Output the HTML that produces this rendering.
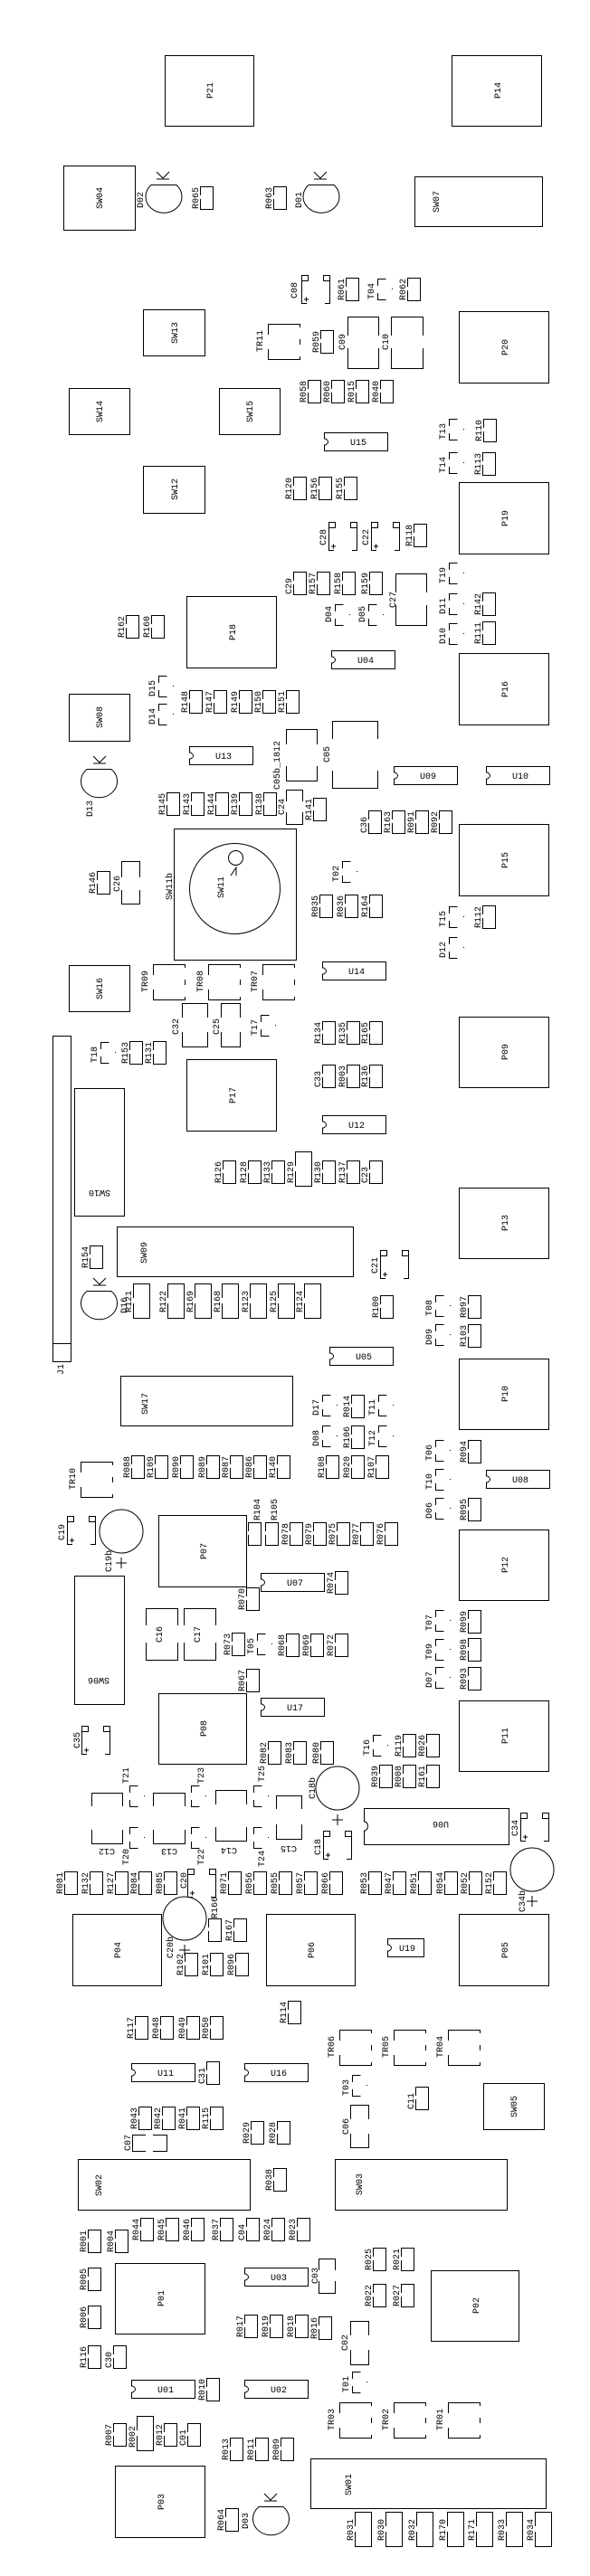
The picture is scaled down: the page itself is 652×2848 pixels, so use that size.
<!DOCTYPE html>
<html><head><meta charset="utf-8">
<style>
html,body{margin:0;padding:0;background:#fff;}
svg{display:block;}
text{fill:#000;stroke:none;font-family:"Liberation Mono","DejaVu Sans Mono",monospace;font-size:10px;}
.m{text-anchor:middle;}
</style></head><body>
<svg width="652" height="2848" viewBox="0 0 652 2848" xmlns="http://www.w3.org/2000/svg" fill="none" stroke="#000" stroke-width="1" shape-rendering="crispEdges">
<defs>
<path id="r" d="M0.5,10V0.5H14.5V25.5H0.5V14"/>
<path id="R" d="M0.5,16V0.5H18.5V38.5H0.5V22"/>
<g id="t"><path d="M9.5,0.5H0.5V8M0.5,16V23.5H9.5"/><rect x="16" y="11" width="1" height="1" fill="#000" stroke="none"/></g>
<g id="e"><rect x="0.5" y="0.5" width="7" height="6"/><rect x="24.5" y="0.5" width="7" height="6"/><path d="M0.5,6V31.5H6M31.5,6V31.5H26M3,27H8M5.5,24.5V29.5"/></g>
<path id="tr" d="M0.5,12V0.5H35.5V4M0.5,28V39.5H35.5V36M35.5,17V23"/>
<path id="u" d="M0.5,0.5H70.5V20.5H0.5V14A4,3.5 0 0 0 0.5,7Z"/>
</defs>

<!-- big boxes -->
<rect x="182.5" y="61.5" width="98" height="78"/><text transform="translate(235,100)rotate(-90)" class="m">P21</text>
<rect x="499.5" y="61.5" width="99" height="78"/><text transform="translate(553,100)rotate(-90)" class="m">P14</text>
<rect x="70.5" y="183.5" width="79" height="71"/><text transform="translate(113,219)rotate(-90)" class="m">SW04</text>
<rect x="458.5" y="195.5" width="141" height="55"/><text transform="translate(485,235)rotate(-90)">SW07</text>
<rect x="158.5" y="342.5" width="68" height="51"/><text transform="translate(196,368)rotate(-90)" class="m">SW13</text>
<rect x="507.5" y="344.5" width="99" height="79"/><text transform="translate(561,384)rotate(-90)" class="m">P20</text>
<rect x="76.5" y="429.5" width="67" height="51"/><text transform="translate(113,455)rotate(-90)" class="m">SW14</text>
<rect x="242.5" y="429.5" width="67" height="51"/><text transform="translate(279,455)rotate(-90)" class="m">SW15</text>
<rect x="158.5" y="515.5" width="68" height="52"/><text transform="translate(196,541)rotate(-90)" class="m">SW12</text>
<rect x="507.5" y="533.5" width="99" height="79"/><text transform="translate(561,573)rotate(-90)" class="m">P19</text>
<rect x="206.5" y="659.5" width="99" height="79"/><text transform="translate(260,699)rotate(-90)" class="m">P18</text>
<rect x="507.5" y="722.5" width="99" height="79"/><text transform="translate(561,762)rotate(-90)" class="m">P16</text>
<rect x="76.5" y="767.5" width="67" height="52"/><text transform="translate(113,793)rotate(-90)" class="m">SW08</text>
<rect x="507.5" y="911.5" width="99" height="79"/><text transform="translate(561,951)rotate(-90)" class="m">P15</text>
<rect x="192.5" y="916.5" width="135" height="145"/><text transform="translate(190,995)rotate(-90)">SW11b</text>
<ellipse cx="259.5" cy="982.5" rx="50" ry="50" shape-rendering="auto"/>
<circle cx="260.5" cy="948.5" r="8" shape-rendering="auto"/>
<path d="M255,968L261,959V968" shape-rendering="auto"/>
<text transform="translate(247,993)rotate(-90)">SW11</text>
<rect x="76.5" y="1067.5" width="67" height="51"/><text transform="translate(113,1093)rotate(-90)" class="m">SW16</text>
<rect x="507.5" y="1124.5" width="99" height="78"/><text transform="translate(561,1163)rotate(-90)" class="m">P09</text>
<rect x="206.5" y="1171.5" width="99" height="79"/><text transform="translate(260,1211)rotate(-90)" class="m">P17</text>
<rect x="58.5" y="1145.5" width="20" height="360"/><path d="M58.5,1485.5H78.5"/><text transform="translate(70,1520)rotate(-90)">J1</text>
<rect x="82.5" y="1203.5" width="55" height="141"/><text transform="translate(110,1316)rotate(180)" class="m">SW10</text>
<rect x="507.5" y="1313.5" width="99" height="78"/><text transform="translate(561,1352)rotate(-90)" class="m">P13</text>
<rect x="129.5" y="1356.5" width="261" height="55"/><text transform="translate(162,1397)rotate(-90)">SW09</text>
<rect x="133.5" y="1521.5" width="190" height="55"/><text transform="translate(163,1564)rotate(-90)">SW17</text>
<rect x="507.5" y="1502.5" width="99" height="78"/><text transform="translate(561,1541)rotate(-90)" class="m">P10</text>
<rect x="175.5" y="1675.5" width="97" height="79"/><text transform="translate(228,1715)rotate(-90)" class="m">P07</text>
<rect x="507.5" y="1691.5" width="99" height="78"/><text transform="translate(561,1730)rotate(-90)" class="m">P12</text>
<rect x="82.5" y="1742.5" width="55" height="142"/><text transform="translate(109,1855)rotate(180)" class="m">SW06</text>
<rect x="175.5" y="1872.5" width="97" height="78"/><text transform="translate(228,1911)rotate(-90)" class="m">P08</text>
<rect x="507.5" y="1880.5" width="99" height="78"/><text transform="translate(561,1919)rotate(-90)" class="m">P11</text>
<path d="M402.5,1999.5H562.5V2039.5H402.5V2024A4,5 0 0 0 402.5,2014Z"/><text transform="translate(487,2014)rotate(180)" class="m">U06</text>
<rect x="80.5" y="2116.5" width="98" height="79"/><text transform="translate(133,2156)rotate(-90)" class="m">P04</text>
<rect x="294.5" y="2116.5" width="98" height="79"/><text transform="translate(347,2156)rotate(-90)" class="m">P06</text>
<rect x="507.5" y="2116.5" width="99" height="79"/><text transform="translate(561,2156)rotate(-90)" class="m">P05</text>
<rect x="534.5" y="2303.5" width="67" height="51"/><text transform="translate(571,2329)rotate(-90)" class="m">SW05</text>
<rect x="86.5" y="2387.5" width="190" height="56"/><text transform="translate(112,2428)rotate(-90)">SW02</text>
<rect x="370.5" y="2387.5" width="190" height="56"/><text transform="translate(400,2427)rotate(-90)">SW03</text>
<rect x="127.5" y="2502.5" width="99" height="78"/><text transform="translate(181,2541)rotate(-90)" class="m">P01</text>
<rect x="476.5" y="2510.5" width="97" height="78"/><text transform="translate(529,2549)rotate(-90)" class="m">P02</text>
<rect x="343.5" y="2718.5" width="260" height="55"/><text transform="translate(388,2759)rotate(-90)">SW01</text>
<rect x="127.5" y="2726.5" width="99" height="79"/><text transform="translate(181,2766)rotate(-90)" class="m">P03</text>

<!-- U chips -->
<use href="#u" x="358" y="478"/><text x="396" y="492" class="m">U15</text>
<use href="#u" x="366" y="719"/><text x="404" y="733" class="m">U04</text>
<use href="#u" x="209" y="825"/><text x="247" y="839" class="m">U13</text>
<use href="#u" x="435" y="847"/><text x="473" y="861" class="m">U09</text>
<use href="#u" x="537" y="847"/><text x="575" y="861" class="m">U10</text>
<use href="#u" x="356" y="1063"/><text x="394" y="1077" class="m">U14</text>
<use href="#u" x="356" y="1233"/><text x="394" y="1247" class="m">U12</text>
<use href="#u" x="364" y="1489"/><text x="402" y="1503" class="m">U05</text>
<use href="#u" x="537" y="1625"/><text x="575" y="1639" class="m">U08</text>
<use href="#u" x="288" y="1739"/><text x="326" y="1753" class="m">U07</text>
<use href="#u" x="288" y="1877"/><text x="326" y="1891" class="m">U17</text>
<path d="M428.5,2143.5H468.5V2163.5H428.5V2157A4,3.5 0 0 0 428.5,2150Z"/><text x="450" y="2157" class="m">U19</text>
<use href="#u" x="145" y="2281"/><text x="183" y="2295" class="m">U11</text>
<use href="#u" x="270" y="2281"/><text x="308" y="2295" class="m">U16</text>
<use href="#u" x="270" y="2507"/><text x="308" y="2521" class="m">U03</text>
<use href="#u" x="145" y="2631"/><text x="183" y="2645" class="m">U01</text>
<use href="#u" x="270" y="2631"/><text x="308" y="2645" class="m">U02</text>

<!-- resistors -->
<use href="#r" x="221" y="206"/><text transform="translate(219,231)rotate(-90)">R065</text>
<use href="#r" x="302" y="206"/><text transform="translate(300,231)rotate(-90)">R063</text>
<use href="#r" x="382" y="307"/><text transform="translate(380,332)rotate(-90)">R061</text>
<use href="#r" x="450" y="307"/><text transform="translate(448,332)rotate(-90)">R062</text>
<use href="#r" x="354" y="365"/><text transform="translate(352,390)rotate(-90)">R059</text>
<use href="#r" x="340" y="420"/><text transform="translate(338,445)rotate(-90)">R058</text>
<use href="#r" x="366" y="420"/><text transform="translate(364,445)rotate(-90)">R060</text>
<use href="#r" x="393" y="420"/><text transform="translate(391,445)rotate(-90)">R015</text>
<use href="#r" x="420" y="420"/><text transform="translate(418,445)rotate(-90)">R040</text>
<use href="#r" x="534" y="463"/><text transform="translate(532,488)rotate(-90)">R110</text>
<use href="#r" x="533" y="500"/><text transform="translate(531,525)rotate(-90)">R113</text>
<use href="#r" x="324" y="527"/><text transform="translate(322,552)rotate(-90)">R120</text>
<use href="#r" x="352" y="527"/><text transform="translate(350,552)rotate(-90)">R156</text>
<use href="#r" x="380" y="527"/><text transform="translate(378,552)rotate(-90)">R155</text>
<use href="#r" x="457" y="579"/><text transform="translate(455,604)rotate(-90)">R118</text>
<use href="#r" x="324" y="632"/><text transform="translate(322,657)rotate(-90)">C29</text>
<use href="#r" x="350" y="632"/><text transform="translate(348,657)rotate(-90)">R157</text>
<use href="#r" x="378" y="632"/><text transform="translate(376,657)rotate(-90)">R158</text>
<use href="#r" x="408" y="632"/><text transform="translate(406,657)rotate(-90)">R159</text>
<use href="#r" x="533" y="655"/><text transform="translate(531,680)rotate(-90)">R142</text>
<use href="#r" x="533" y="687"/><text transform="translate(531,712)rotate(-90)">R111</text>
<use href="#r" x="139" y="680"/><text transform="translate(137,705)rotate(-90)">R162</text>
<use href="#r" x="167" y="680"/><text transform="translate(165,705)rotate(-90)">R160</text>
<use href="#r" x="209" y="763"/><text transform="translate(207,788)rotate(-90)">R148</text>
<use href="#r" x="236" y="763"/><text transform="translate(234,788)rotate(-90)">R147</text>
<use href="#r" x="264" y="763"/><text transform="translate(262,788)rotate(-90)">R149</text>
<use href="#r" x="290" y="763"/><text transform="translate(288,788)rotate(-90)">R150</text>
<use href="#r" x="316" y="763"/><text transform="translate(314,788)rotate(-90)">R151</text>
<use href="#r" x="184" y="876"/><text transform="translate(182,901)rotate(-90)">R145</text>
<use href="#r" x="211" y="876"/><text transform="translate(209,901)rotate(-90)">R143</text>
<use href="#r" x="238" y="876"/><text transform="translate(236,901)rotate(-90)">R144</text>
<use href="#r" x="264" y="876"/><text transform="translate(262,901)rotate(-90)">R139</text>
<use href="#r" x="291" y="876"/><text transform="translate(289,901)rotate(-90)">R138</text>
<use href="#r" x="346" y="882"/><text transform="translate(344,907)rotate(-90)">R141</text>
<use href="#r" x="407" y="896"/><text transform="translate(405,921)rotate(-90)">C36</text>
<use href="#r" x="433" y="896"/><text transform="translate(431,921)rotate(-90)">R163</text>
<use href="#r" x="459" y="896"/><text transform="translate(457,921)rotate(-90)">R091</text>
<use href="#r" x="485" y="896"/><text transform="translate(483,921)rotate(-90)">R092</text>
<use href="#r" x="107" y="963"/><text transform="translate(105,988)rotate(-90)">R146</text>
<use href="#r" x="353" y="989"/><text transform="translate(351,1014)rotate(-90)">R035</text>
<use href="#r" x="381" y="989"/><text transform="translate(379,1014)rotate(-90)">R036</text>
<use href="#r" x="408" y="989"/><text transform="translate(406,1014)rotate(-90)">R164</text>
<use href="#r" x="533" y="1001"/><text transform="translate(531,1026)rotate(-90)">R112</text>
<use href="#r" x="356" y="1129"/><text transform="translate(354,1154)rotate(-90)">R134</text>
<use href="#r" x="383" y="1129"/><text transform="translate(381,1154)rotate(-90)">R135</text>
<use href="#r" x="408" y="1129"/><text transform="translate(406,1154)rotate(-90)">R165</text>
<use href="#r" x="356" y="1177"/><text transform="translate(354,1202)rotate(-90)">C33</text>
<use href="#r" x="383" y="1177"/><text transform="translate(381,1202)rotate(-90)">R003</text>
<use href="#r" x="408" y="1177"/><text transform="translate(406,1202)rotate(-90)">R136</text>
<use href="#r" x="143" y="1151"/><text transform="translate(141,1176)rotate(-90)">R153</text>
<use href="#r" x="169" y="1151"/><text transform="translate(167,1176)rotate(-90)">R131</text>
<use href="#r" x="246" y="1283"/><text transform="translate(244,1308)rotate(-90)">R126</text>
<use href="#r" x="274" y="1283"/><text transform="translate(272,1308)rotate(-90)">R128</text>
<use href="#r" x="300" y="1283"/><text transform="translate(298,1308)rotate(-90)">R133</text>
<use href="#R" x="326" y="1273"/><text transform="translate(324,1308)rotate(-90)">R129</text>
<use href="#r" x="356" y="1283"/><text transform="translate(354,1308)rotate(-90)">R130</text>
<use href="#r" x="383" y="1283"/><text transform="translate(381,1308)rotate(-90)">R137</text>
<use href="#r" x="408" y="1283"/><text transform="translate(406,1308)rotate(-90)">C23</text>
<use href="#r" x="99" y="1377"/><text transform="translate(97,1402)rotate(-90)">R154</text>
<use href="#r" x="420" y="1432"/><text transform="translate(418,1457)rotate(-90)">R100</text>
<use href="#r" x="517" y="1432"/><text transform="translate(515,1457)rotate(-90)">R097</text>
<use href="#r" x="517" y="1464"/><text transform="translate(515,1489)rotate(-90)">R103</text>
<use href="#r" x="388" y="1542"/><text transform="translate(386,1567)rotate(-90)">R014</text>
<use href="#r" x="388" y="1576"/><text transform="translate(386,1601)rotate(-90)">R106</text>
<use href="#r" x="517" y="1592"/><text transform="translate(515,1617)rotate(-90)">R094</text>
<use href="#r" x="145" y="1609"/><text transform="translate(143,1634)rotate(-90)">R088</text>
<use href="#r" x="171" y="1609"/><text transform="translate(169,1634)rotate(-90)">R109</text>
<use href="#r" x="199" y="1609"/><text transform="translate(197,1634)rotate(-90)">R090</text>
<use href="#r" x="228" y="1609"/><text transform="translate(226,1634)rotate(-90)">R089</text>
<use href="#r" x="254" y="1609"/><text transform="translate(252,1634)rotate(-90)">R087</text>
<use href="#r" x="280" y="1609"/><text transform="translate(278,1634)rotate(-90)">R086</text>
<use href="#r" x="306" y="1609"/><text transform="translate(304,1634)rotate(-90)">R140</text>
<use href="#r" x="360" y="1609"/><text transform="translate(358,1634)rotate(-90)">R108</text>
<use href="#r" x="388" y="1609"/><text transform="translate(386,1634)rotate(-90)">R020</text>
<use href="#r" x="415" y="1609"/><text transform="translate(413,1634)rotate(-90)">R107</text>
<use href="#r" x="517" y="1656"/><text transform="translate(515,1681)rotate(-90)">R095</text>
<use href="#r" x="274" y="1683"/><text transform="translate(287,1681)rotate(-90)">R104</text>
<use href="#r" x="293" y="1683"/><text transform="translate(306,1681)rotate(-90)">R105</text>
<use href="#r" x="320" y="1683"/><text transform="translate(318,1708)rotate(-90)">R078</text>
<use href="#r" x="346" y="1683"/><text transform="translate(344,1708)rotate(-90)">R079</text>
<use href="#r" x="372" y="1683"/><text transform="translate(370,1708)rotate(-90)">R075</text>
<use href="#r" x="398" y="1683"/><text transform="translate(396,1708)rotate(-90)">R077</text>
<use href="#r" x="425" y="1683"/><text transform="translate(423,1708)rotate(-90)">R076</text>
<use href="#r" x="370" y="1737"/><text transform="translate(368,1762)rotate(-90)">R074</text>
<use href="#r" x="272" y="1755"/><text transform="translate(270,1780)rotate(-90)">R070</text>
<use href="#r" x="517" y="1780"/><text transform="translate(515,1805)rotate(-90)">R099</text>
<use href="#r" x="256" y="1805"/><text transform="translate(254,1830)rotate(-90)">R073</text>
<use href="#r" x="316" y="1806"/><text transform="translate(314,1831)rotate(-90)">R068</text>
<use href="#r" x="343" y="1806"/><text transform="translate(341,1831)rotate(-90)">R069</text>
<use href="#r" x="370" y="1806"/><text transform="translate(368,1831)rotate(-90)">R072</text>
<use href="#r" x="517" y="1811"/><text transform="translate(515,1836)rotate(-90)">R098</text>
<use href="#r" x="517" y="1843"/><text transform="translate(515,1868)rotate(-90)">R093</text>
<use href="#r" x="272" y="1845"/><text transform="translate(270,1870)rotate(-90)">R067</text>
<use href="#r" x="445" y="1917"/><text transform="translate(443,1942)rotate(-90)">R119</text>
<use href="#r" x="471" y="1917"/><text transform="translate(469,1942)rotate(-90)">R026</text>
<use href="#r" x="296" y="1925"/><text transform="translate(294,1950)rotate(-90)">R082</text>
<use href="#r" x="324" y="1925"/><text transform="translate(322,1950)rotate(-90)">R083</text>
<use href="#r" x="354" y="1925"/><text transform="translate(352,1950)rotate(-90)">R080</text>
<use href="#r" x="419" y="1951"/><text transform="translate(417,1976)rotate(-90)">R039</text>
<use href="#r" x="445" y="1951"/><text transform="translate(443,1976)rotate(-90)">R008</text>
<use href="#r" x="471" y="1951"/><text transform="translate(469,1976)rotate(-90)">R161</text>
<use href="#r" x="71" y="2069"/><text transform="translate(69,2094)rotate(-90)">R081</text>
<use href="#r" x="99" y="2069"/><text transform="translate(97,2094)rotate(-90)">R132</text>
<use href="#r" x="127" y="2069"/><text transform="translate(125,2094)rotate(-90)">R127</text>
<use href="#r" x="153" y="2069"/><text transform="translate(151,2094)rotate(-90)">R084</text>
<use href="#r" x="181" y="2069"/><text transform="translate(179,2094)rotate(-90)">R085</text>
<use href="#r" x="252" y="2069"/><text transform="translate(250,2094)rotate(-90)">R071</text>
<use href="#r" x="280" y="2069"/><text transform="translate(278,2094)rotate(-90)">R056</text>
<use href="#r" x="308" y="2069"/><text transform="translate(306,2094)rotate(-90)">R055</text>
<use href="#r" x="336" y="2069"/><text transform="translate(334,2094)rotate(-90)">R057</text>
<use href="#r" x="364" y="2069"/><text transform="translate(362,2094)rotate(-90)">R066</text>
<use href="#r" x="407" y="2069"/><text transform="translate(405,2094)rotate(-90)">R053</text>
<use href="#r" x="434" y="2069"/><text transform="translate(432,2094)rotate(-90)">R047</text>
<use href="#r" x="462" y="2069"/><text transform="translate(460,2094)rotate(-90)">R051</text>
<use href="#r" x="491" y="2069"/><text transform="translate(489,2094)rotate(-90)">R054</text>
<use href="#r" x="518" y="2069"/><text transform="translate(516,2094)rotate(-90)">R052</text>
<use href="#r" x="545" y="2069"/><text transform="translate(543,2094)rotate(-90)">R152</text>
<use href="#r" x="230" y="2121"/><text transform="translate(240,2121)rotate(-90)">R166</text>
<use href="#r" x="258" y="2121"/><text transform="translate(256,2146)rotate(-90)">R167</text>
<use href="#r" x="204" y="2159"/><text transform="translate(202,2184)rotate(-90)">R102</text>
<use href="#r" x="232" y="2159"/><text transform="translate(230,2184)rotate(-90)">R101</text>
<use href="#r" x="260" y="2159"/><text transform="translate(258,2184)rotate(-90)">R096</text>
<use href="#r" x="318" y="2212"/><text transform="translate(316,2237)rotate(-90)">R114</text>
<use href="#r" x="149" y="2229"/><text transform="translate(147,2254)rotate(-90)">R117</text>
<use href="#r" x="177" y="2229"/><text transform="translate(175,2254)rotate(-90)">R048</text>
<use href="#r" x="206" y="2229"/><text transform="translate(204,2254)rotate(-90)">R049</text>
<use href="#r" x="232" y="2229"/><text transform="translate(230,2254)rotate(-90)">R050</text>
<use href="#r" x="228" y="2279"/><text transform="translate(226,2304)rotate(-90)">C31</text>
<use href="#r" x="459" y="2307"/><text transform="translate(457,2332)rotate(-90)">C11</text>
<use href="#r" x="153" y="2329"/><text transform="translate(151,2354)rotate(-90)">R043</text>
<use href="#r" x="179" y="2329"/><text transform="translate(177,2354)rotate(-90)">R042</text>
<use href="#r" x="206" y="2329"/><text transform="translate(204,2354)rotate(-90)">R041</text>
<use href="#r" x="232" y="2329"/><text transform="translate(230,2354)rotate(-90)">R115</text>
<use href="#r" x="277" y="2345"/><text transform="translate(275,2370)rotate(-90)">R029</text>
<use href="#r" x="306" y="2345"/><text transform="translate(304,2370)rotate(-90)">R028</text>
<use href="#r" x="302" y="2397"/><text transform="translate(300,2422)rotate(-90)">R038</text>
<use href="#r" x="155" y="2452"/><text transform="translate(153,2477)rotate(-90)">R044</text>
<use href="#r" x="183" y="2452"/><text transform="translate(181,2477)rotate(-90)">R045</text>
<use href="#r" x="211" y="2452"/><text transform="translate(209,2477)rotate(-90)">R046</text>
<use href="#r" x="243" y="2452"/><text transform="translate(241,2477)rotate(-90)">R037</text>
<use href="#r" x="272" y="2452"/><text transform="translate(270,2477)rotate(-90)">C04</text>
<use href="#r" x="300" y="2452"/><text transform="translate(298,2477)rotate(-90)">R024</text>
<use href="#r" x="328" y="2452"/><text transform="translate(326,2477)rotate(-90)">R023</text>
<use href="#r" x="97" y="2465"/><text transform="translate(95,2490)rotate(-90)">R001</text>
<use href="#r" x="127" y="2465"/><text transform="translate(125,2490)rotate(-90)">R004</text>
<use href="#r" x="412" y="2485"/><text transform="translate(410,2510)rotate(-90)">R025</text>
<use href="#r" x="443" y="2485"/><text transform="translate(441,2510)rotate(-90)">R021</text>
<use href="#r" x="97" y="2507"/><text transform="translate(95,2532)rotate(-90)">R005</text>
<use href="#r" x="412" y="2525"/><text transform="translate(410,2550)rotate(-90)">R022</text>
<use href="#r" x="443" y="2525"/><text transform="translate(441,2550)rotate(-90)">R027</text>
<use href="#r" x="97" y="2549"/><text transform="translate(95,2574)rotate(-90)">R006</text>
<use href="#r" x="270" y="2559"/><text transform="translate(268,2584)rotate(-90)">R017</text>
<use href="#r" x="298" y="2559"/><text transform="translate(296,2584)rotate(-90)">R019</text>
<use href="#r" x="326" y="2559"/><text transform="translate(324,2584)rotate(-90)">R018</text>
<use href="#r" x="352" y="2561"/><text transform="translate(350,2586)rotate(-90)">R016</text>
<use href="#r" x="97" y="2593"/><text transform="translate(95,2618)rotate(-90)">R116</text>
<use href="#r" x="125" y="2593"/><text transform="translate(123,2618)rotate(-90)">C30</text>
<use href="#r" x="228" y="2629"/><text transform="translate(226,2654)rotate(-90)">R010</text>
<use href="#r" x="125" y="2679"/><text transform="translate(123,2704)rotate(-90)">R007</text>
<use href="#R" x="151" y="2671"/><text transform="translate(149,2706)rotate(-90)">R002</text>
<use href="#r" x="181" y="2679"/><text transform="translate(179,2704)rotate(-90)">R012</text>
<use href="#r" x="207" y="2679"/><text transform="translate(205,2704)rotate(-90)">C01</text>
<use href="#r" x="254" y="2695"/><text transform="translate(252,2720)rotate(-90)">R013</text>
<use href="#r" x="282" y="2695"/><text transform="translate(280,2720)rotate(-90)">R011</text>
<use href="#r" x="310" y="2695"/><text transform="translate(308,2720)rotate(-90)">R009</text>
<use href="#r" x="249" y="2773"/><text transform="translate(247,2798)rotate(-90)">R064</text>

<!-- big resistors -->
<use href="#R" x="147" y="1419"/><text transform="translate(145,1451)rotate(-90)">R121</text>
<use href="#R" x="185" y="1419"/><text transform="translate(183,1451)rotate(-90)">R122</text>
<use href="#R" x="215" y="1419"/><text transform="translate(213,1451)rotate(-90)">R169</text>
<use href="#R" x="245" y="1419"/><text transform="translate(243,1451)rotate(-90)">R168</text>
<use href="#R" x="276" y="1419"/><text transform="translate(274,1451)rotate(-90)">R123</text>
<use href="#R" x="307" y="1419"/><text transform="translate(305,1451)rotate(-90)">R125</text>
<use href="#R" x="336" y="1419"/><text transform="translate(334,1451)rotate(-90)">R124</text>
<use href="#R" x="392" y="2777"/><text transform="translate(390,2809)rotate(-90)">R031</text>
<use href="#R" x="426" y="2777"/><text transform="translate(424,2809)rotate(-90)">R030</text>
<use href="#R" x="460" y="2777"/><text transform="translate(458,2809)rotate(-90)">R032</text>
<use href="#R" x="494" y="2777"/><text transform="translate(492,2809)rotate(-90)">R170</text>
<use href="#R" x="526" y="2777"/><text transform="translate(524,2809)rotate(-90)">R171</text>
<use href="#R" x="559" y="2777"/><text transform="translate(557,2809)rotate(-90)">R033</text>
<use href="#R" x="591" y="2777"/><text transform="translate(589,2809)rotate(-90)">R034</text>

<!-- transistor / small diode brackets -->
<use href="#t" x="417" y="308"/><text transform="translate(413,331)rotate(-90)">T04</text>
<use href="#t" x="496" y="463"/><text transform="translate(492,486)rotate(-90)">T13</text>
<use href="#t" x="496" y="500"/><text transform="translate(492,523)rotate(-90)">T14</text>
<use href="#t" x="496" y="622"/><text transform="translate(492,645)rotate(-90)">T19</text>
<use href="#t" x="496" y="656"/><text transform="translate(492,679)rotate(-90)">D11</text>
<use href="#t" x="496" y="689"/><text transform="translate(492,712)rotate(-90)">D10</text>
<use href="#t" x="370" y="668"/><text transform="translate(366,688)rotate(-90)">D04</text>
<use href="#t" x="407" y="668"/><text transform="translate(403,688)rotate(-90)">D05</text>
<use href="#t" x="175" y="747"/><text transform="translate(171,770)rotate(-90)">D15</text>
<use href="#t" x="175" y="778"/><text transform="translate(171,801)rotate(-90)">D14</text>
<use href="#t" x="378" y="952"/><text transform="translate(374,975)rotate(-90)">T02</text>
<use href="#t" x="496" y="1002"/><text transform="translate(492,1025)rotate(-90)">T15</text>
<use href="#t" x="496" y="1036"/><text transform="translate(492,1059)rotate(-90)">D12</text>
<use href="#t" x="288" y="1122"/><text transform="translate(284,1145)rotate(-90)">T17</text>
<use href="#t" x="111" y="1152"/><text transform="translate(107,1175)rotate(-90)">T18</text>
<use href="#t" x="481" y="1432"/><text transform="translate(477,1455)rotate(-90)">T08</text>
<use href="#t" x="481" y="1464"/><text transform="translate(477,1487)rotate(-90)">D09</text>
<use href="#t" x="356" y="1542"/><text transform="translate(352,1565)rotate(-90)">D17</text>
<use href="#t" x="418" y="1542"/><text transform="translate(414,1565)rotate(-90)">T11</text>
<use href="#t" x="356" y="1576"/><text transform="translate(352,1599)rotate(-90)">D08</text>
<use href="#t" x="418" y="1576"/><text transform="translate(414,1599)rotate(-90)">T12</text>
<use href="#t" x="481" y="1592"/><text transform="translate(477,1615)rotate(-90)">T06</text>
<use href="#t" x="481" y="1624"/><text transform="translate(477,1647)rotate(-90)">T10</text>
<use href="#t" x="481" y="1656"/><text transform="translate(477,1679)rotate(-90)">D06</text>
<use href="#t" x="481" y="1780"/><text transform="translate(477,1803)rotate(-90)">T07</text>
<use href="#t" x="284" y="1806"/><text transform="translate(280,1829)rotate(-90)">T05</text>
<use href="#t" x="481" y="1812"/><text transform="translate(477,1835)rotate(-90)">T09</text>
<use href="#t" x="481" y="1843"/><text transform="translate(477,1866)rotate(-90)">D07</text>
<use href="#t" x="412" y="1918"/><text transform="translate(408,1941)rotate(-90)">T16</text>
<use href="#t" x="143" y="1974"/><text transform="translate(142,1972)rotate(-90)">T21</text>
<use href="#t" x="143" y="2020"/><text transform="translate(142,2062)rotate(-90)">T20</text>
<use href="#t" x="211" y="1974"/><text transform="translate(225,1972)rotate(-90)">T23</text>
<use href="#t" x="211" y="2020"/><text transform="translate(225,2062)rotate(-90)">T22</text>
<use href="#t" x="280" y="1974"/><text transform="translate(292,1970)rotate(-90)">T25</text>
<use href="#t" x="280" y="2020"/><text transform="translate(292,2064)rotate(-90)">T24</text>
<use href="#t" x="389" y="2294"/><text transform="translate(385,2317)rotate(-90)">T03</text>
<use href="#t" x="389" y="2622"/><text transform="translate(385,2645)rotate(-90)">T01</text>

<!-- TR -->
<use href="#tr" x="296" y="358"/><text transform="translate(290,389)rotate(-90)">TR11</text>
<use href="#tr" x="169" y="1066"/><text transform="translate(163,1097)rotate(-90)">TR09</text>
<use href="#tr" x="230" y="1066"/><text transform="translate(224,1097)rotate(-90)">TR08</text>
<use href="#tr" x="290" y="1066"/><text transform="translate(284,1097)rotate(-90)">TR07</text>
<use href="#tr" x="89" y="1616"/><text transform="translate(83,1647)rotate(-90)">TR10</text>
<use href="#tr" x="375" y="2244"/><text transform="translate(369,2275)rotate(-90)">TR06</text>
<use href="#tr" x="435" y="2244"/><text transform="translate(429,2275)rotate(-90)">TR05</text>
<use href="#tr" x="495" y="2244"/><text transform="translate(489,2275)rotate(-90)">TR04</text>
<use href="#tr" x="375" y="2656"/><text transform="translate(369,2687)rotate(-90)">TR03</text>
<use href="#tr" x="435" y="2656"/><text transform="translate(429,2687)rotate(-90)">TR02</text>
<use href="#tr" x="495" y="2656"/><text transform="translate(489,2687)rotate(-90)">TR01</text>

<!-- electrolytic -->
<use href="#e" x="333" y="304"/><text transform="translate(328,330)rotate(-90)">C08</text>
<use href="#e" x="363" y="577"/><text transform="translate(360,603)rotate(-90)">C28</text>
<use href="#e" x="410" y="577"/><text transform="translate(407,603)rotate(-90)">C22</text>
<use href="#e" x="420" y="1382"/><text transform="translate(417,1408)rotate(-90)">C21</text>
<use href="#e" x="74" y="1676"/><text transform="translate(71,1703)rotate(-90)">C19</text>
<use href="#e" x="90" y="1908"/><text transform="translate(88,1933)rotate(-90)">C35</text>
<use href="#e" x="575" y="2004"/><text transform="translate(572,2030)rotate(-90)">C34</text>
<use href="#e" x="357" y="2024"/><text transform="translate(354,2051)rotate(-90)">C18</text>
<use href="#e" x="207" y="2066"/><text transform="translate(206,2088)rotate(-90)">C20</text>

<!-- non-polar caps -->
<path d="M384.5,371V350.5H418.5V371M384.5,385V407.5H418.5V385"/><text transform="translate(381,378)rotate(-90)" class="m">C09</text>
<path d="M432.5,371V350.5H467.5V371M432.5,385V407.5H467.5V385"/><text transform="translate(429,378)rotate(-90)" class="m">C10</text>
<path d="M437.5,655V634.5H471.5V655M437.5,669V691.5H471.5V669"/><text transform="translate(437,663)rotate(-90)" class="m">C27</text>
<path d="M316.5,823V806.5H350.5V823M316.5,847V863.5H350.5V847"/><text transform="translate(309,873)rotate(-90)">C05b_1812</text>
<path d="M367.5,817V797.5H417.5V817M367.5,852V871.5H417.5V852"/><text transform="translate(364,843)rotate(-90)">C05</text>
<path d="M316.5,886V873.5H334.5V886M316.5,898V911.5H334.5V898"/><text transform="translate(314,892)rotate(-90)" class="m">C24</text>
<path d="M134.5,970V952.5H154.5V970M134.5,984V999.5H154.5V984"/><text transform="translate(132,977)rotate(-90)" class="m">C26</text>
<path d="M201.5,1125V1109.5H229.5V1125M201.5,1141V1157.5H229.5V1141"/><text transform="translate(197,1135)rotate(-90)" class="m">C32</text>
<path d="M244.5,1125V1109.5H265.5V1125M244.5,1141V1157.5H265.5V1141"/><text transform="translate(242,1135)rotate(-90)" class="m">C25</text>
<path d="M161.5,1797V1778.5H196.5V1797M161.5,1816V1835.5H196.5V1816"/><text transform="translate(179,1807)rotate(-90)" class="m">C16</text>
<path d="M203.5,1797V1778.5H238.5V1797M203.5,1816V1835.5H238.5V1816"/><text transform="translate(221,1807)rotate(-90)" class="m">C17</text>
<path d="M101.5,1997V1982.5H135.5V1997M101.5,2023V2038.5H135.5V2023"/><text transform="translate(118,2044)rotate(180)" class="m">C12</text>
<path d="M169.5,1997V1982.5H204.5V1997M169.5,2023V2038.5H204.5V2023"/><text transform="translate(187,2044)rotate(180)" class="m">C13</text>
<path d="M238.5,1995V1979.5H272.5V1995M238.5,2020V2035.5H272.5V2020"/><text transform="translate(253,2043)rotate(180)" class="m">C14</text>
<path d="M305.5,2000V1985.5H333.5V2000M305.5,2017V2033.5H333.5V2017"/><text transform="translate(319,2041)rotate(180)" class="m">C15</text>
<path d="M387.5,2343V2327.5H407.5V2343M387.5,2359V2374.5H407.5V2359"/><text transform="translate(385,2351)rotate(-90)" class="m">C06</text>
<path d="M387.5,2582V2566.5H407.5V2582M387.5,2598V2614.5H407.5V2598"/><text transform="translate(384,2590)rotate(-90)" class="m">C02</text>
<path d="M352.5,2510V2497.5H370.5V2510M352.5,2522V2535.5H370.5V2522"/><text transform="translate(351,2516)rotate(-90)" class="m">C03</text>
<path d="M161,2360.5H146.5V2378.5H161M169,2360.5H184.5V2378.5H169"/><text transform="translate(144,2369)rotate(-90)" class="m">C07</text>

<!-- LEDs -->
<g shape-rendering="auto">
<path d="M167,204.5H195A20,18 0 1 1 167,204.5Z"/><path d="M173,190L180,197L187,190M173,198H187"/>
<path d="M341,204.5H369A20,18 0 1 1 341,204.5Z"/><path d="M347,190L354,197L361,190M347,198H361"/>
<path d="M96,850.5H123A20,18 0 1 1 96,850.5Z"/><path d="M103,836L110,843L117,836M103,844H117"/>
<path d="M96,1427.5H123A20,18 0 1 1 96,1427.5Z"/><path d="M103,1413L110,1420L117,1413M103,1421H117"/>
<path d="M286,2771.5H313A20,18 0 1 1 286,2771.5Z"/><path d="M292,2757L299,2764L306,2757M292,2765H306"/>
<ellipse cx="134" cy="1693" rx="24" ry="24"/><path d="M128,1728H140M134,1722V1734"/>
<ellipse cx="373" cy="1977" rx="24" ry="24"/><path d="M367,2012H379M373,2006V2018"/>
<ellipse cx="588" cy="2067" rx="24" ry="24"/><path d="M582,2102H594M588,2096V2108"/>
<ellipse cx="204" cy="2121" rx="24" ry="24"/><path d="M198,2156H210M204,2150V2162"/>
</g>
<text transform="translate(158,230)rotate(-90)">D02</text>
<text transform="translate(333,230)rotate(-90)">D01</text>
<text transform="translate(102,903)rotate(-90)">D13</text>
<text transform="translate(140,1452)rotate(-90)">D16</text>
<text transform="translate(274,2796)rotate(-90)">D03</text>
<text transform="translate(123,1738)rotate(-90)">C19b</text>
<text transform="translate(348,1989)rotate(-90)">C18b</text>
<text transform="translate(580,2114)rotate(-90)">C34b</text>
<text transform="translate(191,2165)rotate(-90)">C20b</text>
</svg>
</body></html>
